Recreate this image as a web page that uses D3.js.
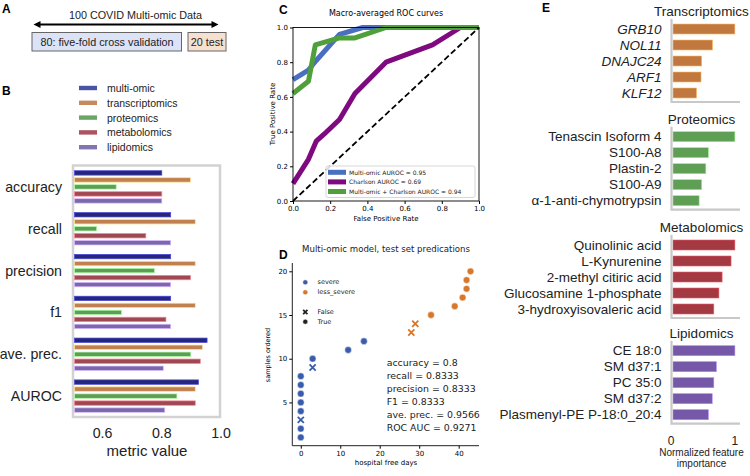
<!DOCTYPE html>
<html>
<head>
<meta charset="utf-8">
<title>Multi-omic figure</title>
<script src="https://d3js.org/d3.v7.min.js"></script>
<style>
  body { margin: 0; background: #fff; }
  svg { display: block; font-family: "Liberation Sans", Arial, sans-serif; }
  .mpl { font-family: "DejaVu Sans", sans-serif; }
  .mpl .domain { display: none; }
</style>
</head>
<body>
<div id="fig"></div>
<script>

// ---------- panel B data ----------
var metrics = ["accuracy", "recall", "precision", "f1", "ave. prec.", "AUROC"];
var omics = ["multi-omic", "transcriptomics", "proteomics", "metabolomics", "lipidomics"];
var omicColors = ["#27277a", "#c0804f", "#5f9b59", "#a04852", "#7a68aa"];
var legendColors = ["#4a55a2", "#c58a5e", "#6aa664", "#a9545e", "#8574b2"];
var multiOmic = [0.80, 0.83, 0.83, 0.83, 0.953, 0.924];
var transcriptomics = [0.897, 0.913, 0.913, 0.913, 0.937, 0.913];
var proteomics = [0.646, 0.58, 0.775, 0.664, 0.898, 0.851];
var metabolomics = [0.80, 0.746, 0.897, 0.814, 0.93, 0.913];
var lipidomics = [0.80, 0.83, 0.83, 0.83, 0.805, 0.81];
var bTicks = [0.6, 0.8, 1.0];

// ---------- panel C data ----------
var rocNames = ["Multi-omic AUROC = 0.95", "Charlson AUROC = 0.69", "Multi-omic + Charlson AUROC = 0.94"];
var rocColors = ["#4a6fbf", "#7f0a80", "#4f9f3a"];
var rocMulti = [[0, 0.70], [0.083, 0.755], [0.125, 0.81], [0.25, 0.96], [0.375, 1.0], [1, 1]];
var rocCharlson = [[0, 0.10], [0.083, 0.24], [0.125, 0.345], [0.167, 0.385], [0.25, 0.47], [0.333, 0.62],
                   [0.5, 0.80], [0.75, 0.90], [0.9, 1.0], [1, 1]];
var rocCombined = [[0, 0.62], [0.083, 0.69], [0.12, 0.90], [0.25, 0.94], [0.333, 0.94], [0.5, 1.0], [1, 1]];
var rocTicks = [0, 0.2, 0.4, 0.6, 0.8, 1.0];

// ---------- panel D data ----------
var hospitalFreeDays = [0, 0, 0, 0, 0, 0, 0, 0, 3, 3, 12, 16, 28, 29, 33, 39, 41, 42, 42, 43];
var sampleOrder = [1, 2, 3, 4, 5, 6, 7, 8, 9, 10, 11, 12, 13, 14, 15, 16, 17, 18, 19, 20];
var severity = ["severe", "severe", "severe", "severe", "severe", "severe", "severe", "severe", "severe", "severe",
                "severe", "severe", "less_severe", "less_severe", "less_severe", "less_severe", "less_severe",
                "less_severe", "less_severe", "less_severe"];
var correct = [true, true, false, true, true, true, true, true, false, true,
               true, true, false, false, true, true, true, true, true, true];
var severityColors = { severe: "#3a5caa", less_severe: "#d6772b" };
var statLines = ["accuracy = 0.8", "recall = 0.8333", "precision = 0.8333", "F1 = 0.8333",
                 "ave. prec. = 0.9566", "ROC AUC = 0.9271"];
var dxTicks = [0, 10, 20, 30, 40];
var dyTicks = [5, 10, 15, 20];

// ---------- panel E data ----------
var transFeatures = ["GRB10", "NOL11", "DNAJC24", "ARF1", "KLF12"];
var transImportance = [1.0, 0.65, 0.48, 0.47, 0.40];
var protFeatures = ["Tenascin Isoform 4", "S100-A8", "Plastin-2", "S100-A9", "\u03b1-1-anti-chymotrypsin"];
var protImportance = [1.0, 0.585, 0.545, 0.48, 0.44];
var metabFeatures = ["Quinolinic acid", "L-Kynurenine", "2-methyl citiric acid", "Glucosamine 1-phosphate", "3-hydroxyisovaleric acid"];
var metabImportance = [1.0, 0.94, 0.80, 0.75, 0.67];
var lipidFeatures = ["CE 18:0", "SM d37:1", "PC 35:0", "SM d37:2", "Plasmenyl-PE P-18:0_20:4"];
var lipidImportance = [1.0, 0.71, 0.67, 0.645, 0.585];
var eTicks = [0, 1];

var svg = d3.select("#fig").append("svg")
  .attr("width", 750)
  .attr("height", 476);

// panel letters
[["A", 2, 13], ["B", 2, 95], ["C", 279, 14], ["D", 279, 259], ["E", 542, 12]].forEach(function (l) {
  svg.append("text").attr("x", l[1]).attr("y", l[2])
    .attr("font-size", 12).attr("font-weight", "bold").text(l[0]);
});

/* ---------------- panel A : data split ---------------- */
var defs = svg.append("defs");
["start", "end"].forEach(function (k) {
  defs.append("marker")
    .attr("id", "arr-" + k)
    .attr("viewBox", "0 0 10 10").attr("refX", 5).attr("refY", 5)
    .attr("markerWidth", 3.6).attr("markerHeight", 3.2)
    .attr("orient", k == "start" ? "auto-start-reverse" : "auto")
    .append("path").attr("d", "M0,0 L10,5 L0,10 z").attr("fill", "#000");
});
var pa = svg.append("g");
pa.append("text").attr("x", 135.5).attr("y", 14.5).attr("text-anchor", "middle")
  .attr("dominant-baseline", "central").attr("font-size", 10.8).attr("fill", "#222")
  .text("100 COVID Multi-omic Data");
pa.append("line").attr("x1", 37).attr("x2", 215).attr("y1", 24.5).attr("y2", 24.5)
  .attr("stroke", "#000").attr("stroke-width", 2.2)
  .attr("marker-start", "url(#arr-start)").attr("marker-end", "url(#arr-end)");
pa.append("rect").attr("x", 32).attr("y", 32.5).attr("width", 149.5).attr("height", 18.5)
  .attr("fill", "#dce3f6").attr("stroke", "#666").attr("stroke-width", 1);
pa.append("text").attr("x", 107).attr("y", 42).attr("text-anchor", "middle")
  .attr("dominant-baseline", "central").attr("font-size", 10.8).attr("fill", "#222")
  .text("80: five-fold cross validation");
pa.append("rect").attr("x", 188).attr("y", 32.5).attr("width", 38).attr("height", 18.5)
  .attr("fill", "#f6e1d1").attr("stroke", "#666").attr("stroke-width", 1);
pa.append("text").attr("x", 207).attr("y", 42).attr("text-anchor", "middle")
  .attr("dominant-baseline", "central").attr("font-size", 10.8).attr("fill", "#222").text("20 test");

/* ---------------- panel B : grouped bars ---------------- */
var seriesB = [multiOmic, transcriptomics, proteomics, metabolomics, lipidomics];
var pb = svg.append("g");
var xB = d3.scaleLinear().domain([0.5, 1.0]).range([73, 221]);
var yB = d3.scaleBand().domain(metrics).range([166, 417]);
var yInner = d3.scaleBand().domain(omics).range([-17.5, 17.5]);

// legend
omics.forEach(function (o, i) {
  var ly = 88 + i * 14.8;
  pb.append("rect").attr("x", 79).attr("y", ly - 2.2).attr("width", 18).attr("height", 4.4)
    .attr("fill", legendColors[i]);
  pb.append("text").attr("x", 107).attr("y", ly).attr("dominant-baseline", "central")
    .attr("font-size", 10.5).attr("fill", "#222").text(o);
});

pb.append("rect").attr("x", 73).attr("y", 165.5).attr("width", 147).attr("height", 251.5)
  .attr("fill", "none").attr("stroke", "#d2d2d2").attr("stroke-width", 2.5);

metrics.forEach(function (m, mi) {
  var g = pb.append("g").attr("transform", "translate(0," + (yB(m) + yB.bandwidth() / 2) + ")");
  g.selectAll("rect").data(omics).enter().append("rect")
    .attr("x", xB(0.5) + 1.5)
    .attr("y", function (o) { return yInner(o) + yInner.bandwidth() / 2 - 2.2; })
    .attr("width", function (o, i) { return xB(seriesB[i][mi]) - xB(0.5) - 1.5; })
    .attr("height", 4.4)
    .attr("fill", function (o, i) { return omicColors[i]; })
    .attr("stroke", function (o, i) { return d3.color(omicColors[i]).brighter(1.6); })
    .attr("stroke-width", 0.7);
  pb.append("text").attr("x", 62).attr("y", yB(m) + yB.bandwidth() / 2)
    .attr("text-anchor", "end").attr("dominant-baseline", "central")
    .attr("font-size", 14.2).attr("fill", "#222").text(m);
});

pb.selectAll(".btick").data(bTicks).enter().append("text")
  .attr("x", function (d) { return xB(d); })
  .attr("y", 433).attr("text-anchor", "middle").attr("dominant-baseline", "central")
  .attr("font-size", 14.2).attr("fill", "#222").text(function (d) { return d3.format(".1f")(d); });
pb.append("text").attr("x", 147).attr("y", 450).attr("text-anchor", "middle")
  .attr("dominant-baseline", "central").attr("font-size", 15).attr("fill", "#222").text("metric value");

/* ---------------- panel C : ROC ---------------- */
var pc = svg.append("g").attr("class", "mpl");
var xC = d3.scaleLinear().domain([0, 1]).range([293, 479]);
var yC = d3.scaleLinear().domain([0, 1]).range([201, 27.5]);

pc.append("text").attr("x", 386).attr("y", 13).attr("text-anchor", "middle")
  .attr("dominant-baseline", "central").attr("font-size", 8).text("Macro-averaged ROC curves");

var rocLine = d3.line().x(function (d) { return xC(d[0]); }).y(function (d) { return yC(d[1]); });
var clipC = defs.append("clipPath").attr("id", "clipC");
clipC.append("rect").attr("x", 290).attr("y", 25).attr("width", 192).attr("height", 177);

var cLines = pc.append("g").attr("clip-path", "url(#clipC)");
[rocMulti, rocCharlson, rocCombined].forEach(function (s, i) {
  cLines.append("path").datum(s).attr("d", rocLine).attr("fill", "none")
    .attr("stroke", rocColors[i]).attr("stroke-width", 5).attr("stroke-linejoin", "round");
});
cLines.append("path").datum([[0, 0], [1, 1]]).attr("d", rocLine)
  .attr("stroke", "#000").attr("stroke-width", 1.8).attr("stroke-dasharray", "6,3");

pc.append("rect").attr("x", 293).attr("y", 27.5).attr("width", 186).attr("height", 173.5)
  .attr("fill", "none").attr("stroke", "#000").attr("stroke-width", 0.9);

pc.append("g").attr("transform", "translate(0,201)")
  .call(d3.axisBottom(xC).tickValues(rocTicks).tickFormat(d3.format(".1f")).tickSize(3).tickPadding(2))
  .attr("font-size", 7).attr("font-family", null);
pc.append("g").attr("transform", "translate(293,0)")
  .call(d3.axisLeft(yC).tickValues(rocTicks).tickFormat(d3.format(".1f")).tickSize(3).tickPadding(2))
  .attr("font-size", 7).attr("font-family", null);
pc.append("text").attr("x", 386).attr("y", 218.5).attr("text-anchor", "middle")
  .attr("dominant-baseline", "central").attr("font-size", 7).text("False Positive Rate");
pc.append("text").attr("transform", "translate(273,114) rotate(-90)").attr("text-anchor", "middle")
  .attr("dominant-baseline", "central").attr("font-size", 7).text("True Positive Rate");

// legend C
pc.append("rect").attr("x", 326).attr("y", 166).attr("width", 149).attr("height", 31.5).attr("rx", 2)
  .attr("fill", "#fff").attr("fill-opacity", 0.85).attr("stroke", "#ccc").attr("stroke-width", 0.8);
rocNames.forEach(function (n, i) {
  var ly = 172.3 + i * 9.6;
  pc.append("line").attr("x1", 328).attr("x2", 346).attr("y1", ly).attr("y2", ly)
    .attr("stroke", rocColors[i]).attr("stroke-width", 5);
  pc.append("text").attr("x", 349).attr("y", ly).attr("dominant-baseline", "central")
    .attr("font-size", 6).attr("fill", "#222").text(n);
});

/* ---------------- panel D : test set predictions ---------------- */
var pd = svg.append("g").attr("class", "mpl");
var xD = d3.scaleLinear().domain([-2.15, 45.15]).range([292.3, 479]);
var yD = d3.scaleLinear().domain([0.05, 20.95]).range([445.7, 263]);

pd.append("text").attr("x", 386).attr("y", 249).attr("text-anchor", "middle")
  .attr("dominant-baseline", "central").attr("font-size", 8.6).attr("fill", "#222")
  .text("Multi-omic model, test set predications");

pd.append("g").attr("transform", "translate(0,445.7)")
  .call(d3.axisBottom(xD).tickValues(dxTicks).tickSize(3).tickPadding(2))
  .attr("font-size", 7).attr("font-family", null);
pd.append("g").attr("transform", "translate(292.3,0)")
  .call(d3.axisLeft(yD).tickValues(dyTicks).tickSize(3).tickPadding(2))
  .attr("font-size", 7).attr("font-family", null);
pd.append("line").attr("x1", 292.3).attr("x2", 479).attr("y1", 445.7).attr("y2", 445.7)
  .attr("stroke", "#222").attr("stroke-width", 1);
pd.append("line").attr("x1", 292.3).attr("x2", 292.3).attr("y1", 263).attr("y2", 445.7)
  .attr("stroke", "#222").attr("stroke-width", 1);
pd.append("text").attr("x", 386).attr("y", 462.5).attr("text-anchor", "middle")
  .attr("dominant-baseline", "central").attr("font-size", 7).text("hospital free days");
pd.append("text").attr("transform", "translate(267.5,355) rotate(-90)").attr("text-anchor", "middle")
  .attr("dominant-baseline", "central").attr("font-size", 6.5).text("samples ordered");

function drawMarker(g, x, y, ok, color, r) {
  if (ok) {
    g.append("circle").attr("cx", x).attr("cy", y).attr("r", r).attr("fill", color)
      .attr("stroke", "#fff").attr("stroke-width", 0.5);
  } else {
    var s = r * 0.9;
    g.append("path").attr("d", "M" + (x - s) + "," + (y - s) + "L" + (x + s) + "," + (y + s) +
      "M" + (x - s) + "," + (y + s) + "L" + (x + s) + "," + (y - s))
      .attr("stroke", color).attr("stroke-width", 1.8);
  }
}
hospitalFreeDays.forEach(function (h, i) {
  drawMarker(pd, xD(h), yD(sampleOrder[i]), correct[i], severityColors[severity[i]], 3.4);
});

// legend D
[["severe", severityColors.severe, true], ["less_severe", severityColors.less_severe, true],
 ["False", "#222", false], ["True", "#222", true]].forEach(function (e, i) {
  var ly = [282.3, 292.3, 312, 321.7][i];
  drawMarker(pd, 305.3, ly, e[2], e[1], e[2] ? 2.5 : 2.4);
  pd.append("text").attr("x", 317.5).attr("y", ly).attr("dominant-baseline", "central")
    .attr("font-size", 6.5).attr("fill", "#222").text(e[0]);
});

statLines.forEach(function (t, i) {
  pd.append("text").attr("x", 386.7).attr("y", 362.3 + i * 13)
    .attr("dominant-baseline", "central").attr("font-size", 9.4).attr("fill", "#222").text(t);
});

/* ---------------- panel E : feature importance ---------------- */
var pe = svg.append("g");
var xE = d3.scaleLinear().domain([0, 1.08]).range([671, 740]);
var groupsE = [
  { title: "Transcriptomics", names: transFeatures, vals: transImportance, color: "#c0783f", top: 21, italic: true },
  { title: "Proteomics", names: protFeatures, vals: protImportance, color: "#5f9e55", top: 128.7 },
  { title: "Metabolomics", names: metabFeatures, vals: metabImportance, color: "#a23a43", top: 237 },
  { title: "Lipidomics", names: lipidFeatures, vals: lipidImportance, color: "#7558a8", top: 342.7 }
];
groupsE.forEach(function (grp, gi) {
  var yE = d3.scaleBand().domain(grp.names).range([grp.top, grp.top + 80]);
  var g = pe.append("g");
  g.append("text").attr("x", 701.5).attr("y", grp.top - 9.5).attr("text-anchor", "middle")
    .attr("dominant-baseline", "central").attr("font-size", 13.5).attr("fill", "#222").text(grp.title);
  g.selectAll("rect").data(grp.names).enter().append("rect")
    .attr("x", xE(0) + 2)
    .attr("y", function (n) { return yE(n) + yE.bandwidth() / 2 - 5; })
    .attr("width", function (n, i) { return xE(grp.vals[i]) - xE(0) - 2; })
    .attr("height", 10)
    .attr("fill", grp.color)
    .attr("stroke", d3.color(grp.color).brighter(1.2)).attr("stroke-width", 0.6);
  g.selectAll(".lbl").data(grp.names).enter().append("text")
    .attr("x", 661.5)
    .attr("y", function (n) { return yE(n) + yE.bandwidth() / 2; })
    .attr("text-anchor", "end").attr("dominant-baseline", "central")
    .attr("font-size", 13.5).attr("fill", "#222")
    .attr("font-style", grp.italic ? "italic" : null)
    .text(function (n) { return n; });
  g.append("path")
    .attr("d", "M" + (xE(0) + 0.5) + "," + (grp.top - 2) + "V" + (grp.top + 81) + "H" + xE.range()[1])
    .attr("fill", "none").attr("stroke", "#c8c8c8").attr("stroke-width", 2.2);
});
pe.selectAll(".etick").data(eTicks).enter().append("text")
  .attr("x", function (d) { return xE(d); }).attr("y", 440.7)
  .attr("text-anchor", "middle").attr("dominant-baseline", "central")
  .attr("font-size", 12).attr("fill", "#222").text(function (d) { return d; });
pe.append("text").attr("x", 701.5).attr("y", 452).attr("text-anchor", "middle")
  .attr("dominant-baseline", "central").attr("font-size", 10).attr("fill", "#222").text("Normalized feature");
pe.append("text").attr("x", 701.5).attr("y", 463.5).attr("text-anchor", "middle")
  .attr("dominant-baseline", "central").attr("font-size", 10).attr("fill", "#222").text("importance");

</script>
</body>
</html>
